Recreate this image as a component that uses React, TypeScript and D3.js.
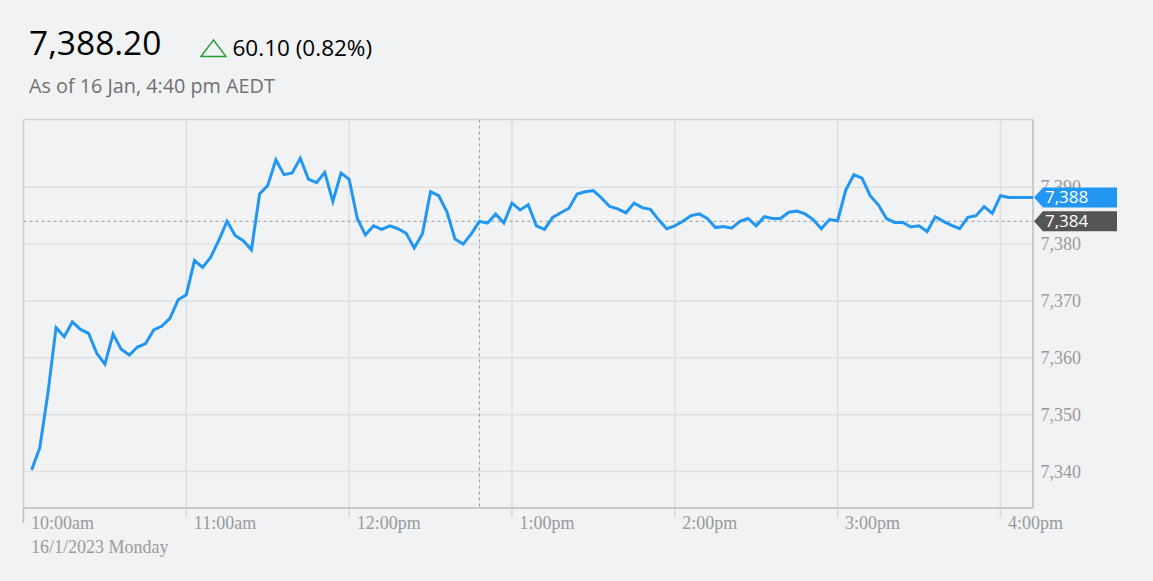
import React from "react";
import * as d3 from "d3";

// ---- data ----
const startTime = "2023-01-16T10:03:00";
const stepMinutes = 3;
const prices: number[] = [
  7340.3, 7344.2, 7353.8, 7365.3, 7363.7, 7366.3, 7365.0, 7364.3, 7360.8, 7358.9,
  7364.2, 7361.5, 7360.5, 7361.9, 7362.5, 7364.9, 7365.6, 7367.0, 7370.2, 7371.1,
  7377.1, 7375.9, 7377.7, 7380.7, 7384.0, 7381.5, 7380.6, 7379.0, 7388.8, 7390.3,
  7394.8, 7392.2, 7392.5, 7395.1, 7391.4, 7390.8, 7392.6, 7387.5, 7392.5, 7391.4,
  7384.5, 7381.6, 7383.2, 7382.6, 7383.2, 7382.7, 7381.9, 7379.3, 7381.8, 7389.2,
  7388.5, 7385.7, 7380.9, 7380.0, 7381.8, 7384.0, 7383.7, 7385.3, 7383.7, 7387.2,
  7386.0, 7386.9, 7383.2, 7382.6, 7384.7, 7385.5, 7386.3, 7388.8, 7389.2, 7389.4,
  7388.1, 7386.6, 7386.2, 7385.5, 7387.2, 7386.4, 7386.1, 7384.3, 7382.7, 7383.2,
  7384.0, 7385.0, 7385.3, 7384.5, 7382.9, 7383.1, 7382.8, 7384.0, 7384.5, 7383.2,
  7384.8, 7384.5, 7384.5, 7385.6, 7385.8, 7385.3, 7384.3, 7382.7, 7384.3, 7384.1,
  7389.5, 7392.2, 7391.6, 7388.5, 7386.9, 7384.5, 7383.8, 7383.8, 7383.0, 7383.2,
  7382.2, 7384.8, 7384.0, 7383.3, 7382.7, 7384.7, 7385.0, 7386.6, 7385.4, 7388.5,
  7388.2, 7388.2, 7388.2, 7388.2,
];
const yTicks = [7340, 7350, 7360, 7370, 7380, 7390];
const xTickTimes = ["10:00", "11:00", "12:00", "13:00", "14:00", "15:00", "16:00"];
const xTickLabels = ["10:00am", "11:00am", "12:00pm", "1:00pm", "2:00pm", "3:00pm", "4:00pm"];
const dateLabel = "16/1/2023 Monday";
const lastPrice = "7,388.20";
const change = "60.10 (0.82%)";
const asOf = "As of 16 Jan, 4:40 pm AEDT";
const currentValue = 7388.2;
const crosshairTime = "12:48";
const crosshairValue = 7384.0;

const day = "2023-01-16T";
const t0 = new Date(startTime).getTime();
const series = prices.map((v, i) => ({ t: new Date(t0 + i * stepMinutes * 60000), v }));

export default function App() {
  const W = 1153, H = 581;
  const left = 23.5, right = 1033, top = 119.5, bottom = 508;
  const x = d3.scaleTime()
    .domain([new Date(day + "10:00:00"), new Date(day + "16:12:00")])
    .range([left, right]);
  const y = d3.scaleLinear().domain([7333.6, 7401.9]).range([bottom, top]);
  const line = d3.line<{ t: Date; v: number }>()
    .x((d) => x(d.t))
    .y((d) => y(d.v));
  const fmt = d3.format(",.0f");
  const cx = x(new Date(day + crosshairTime + ":00"));
  const cy = y(crosshairValue);
  const by = y(currentValue);
  const tag = (yy: number) =>
    `M${right + 1},${yy} L${right + 10},${yy - 10} L${right + 84},${yy - 10} L${right + 84},${yy + 10} L${right + 10},${yy + 10} Z`;
  const grid = "#dedfe1";
  const axisC = "#bdbdbd";
  const labelC = "#9a9a9a";
  const serif = "'Liberation Serif', 'Times New Roman', serif";
  return (
    <svg width={W} height={H} style={{ position: "absolute", left: 0, top: 0, background: "#f1f2f4" }}>
      <rect x={0} y={0} width={W} height={H} fill="#f1f2f4" />
      {/* header */}
      <text x={29} y={55} fontFamily="'Open Sans', sans-serif" fontSize={33.5} fill="#000">{lastPrice}</text>
      <path d="M201,56.5 L213.5,40 L226,56.5 Z" fill="none" stroke="#2a9d3a" strokeWidth={1.4} />
      <text x={232.5} y={56} fontFamily="'Open Sans', sans-serif" fontSize={22.5} fill="#000">{change}</text>
      <text x={29} y={92.5} fontFamily="'Open Sans', sans-serif" fontSize={19.8} fill="#707070">{asOf}</text>

      {/* horizontal grid */}
      {yTicks.map((v) => (
        <line key={v} x1={left} x2={right} y1={y(v)} y2={y(v)} stroke={grid} strokeWidth={1.5} />
      ))}
      {/* vertical grid */}
      {xTickTimes.map((t) => {
        const xx = x(new Date(day + t + ":00"));
        return <line key={t} x1={xx} x2={xx} y1={top} y2={bottom} stroke={grid} strokeWidth={1.5} />;
      })}
      {/* frame */}
      <line x1={left} x2={right} y1={top} y2={top} stroke="#d3d4d6" strokeWidth={1.5} />
      <line x1={left} x2={left} y1={top} y2={bottom} stroke="#d0d1d3" strokeWidth={1.5} />
      <line x1={right} x2={right} y1={top} y2={bottom} stroke={axisC} strokeWidth={1.5} />
      <line x1={left} x2={right} y1={bottom} y2={bottom} stroke={axisC} strokeWidth={1.5} />
      {/* x ticks & labels */}
      {xTickTimes.map((t, i) => {
        const xx = x(new Date(day + t + ":00"));
        return (
          <g key={t}>
            <line x1={xx} x2={xx} y1={bottom} y2={i === 0 ? 523 : 517} stroke={i === 0 ? axisC : "#d6d6d6"} strokeWidth={1.5} />
            <text x={xx + 7.5} y={529} fontFamily={serif} fontSize={18} fill={labelC}>
              {xTickLabels[i]}
            </text>
          </g>
        );
      })}
      <text x={31} y={553} fontFamily={serif} fontSize={18} fill={labelC}>{dateLabel}</text>
      {/* y labels */}
      {yTicks.map((v) => (
        <text key={v} x={1040.5} y={y(v) + 6} fontFamily={serif} fontSize={18} fill={labelC}>
          {fmt(v)}
        </text>
      ))}
      {/* crosshair */}
      <line x1={cx} x2={cx} y1={top} y2={bottom} stroke="#999" strokeWidth={1} strokeDasharray="3,3" />
      <line x1={left} x2={right} y1={cy} y2={cy} stroke="#999" strokeWidth={1} strokeDasharray="3,3" />
      {/* price line */}
      <path d={line(series) || ""} fill="none" stroke="#2196f3" strokeWidth={3} strokeLinejoin="miter" />
      {/* tags */}
      <path d={tag(by)} fill="#2196f3" />
      <text x={right + 12} y={by + 6} fontFamily="'Open Sans', sans-serif" fontSize={17} fill="#fff">{fmt(currentValue)}</text>
      <path d={tag(cy)} fill="#555555" />
      <text x={right + 12} y={cy + 6} fontFamily="'Open Sans', sans-serif" fontSize={17} fill="#fff">{fmt(crosshairValue)}</text>
    </svg>
  );
}
